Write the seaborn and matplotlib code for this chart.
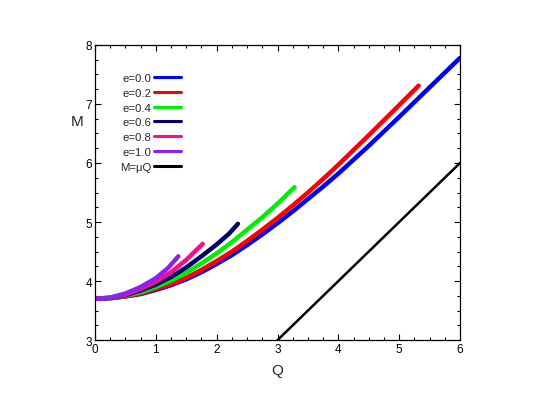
import matplotlib
matplotlib.use("Agg")
import matplotlib.pyplot as plt
from matplotlib.ticker import MultipleLocator
import seaborn as sns
import pandas as pd

# curves, M against Q
q_e00 = [0, 0.25, 0.5, 0.75, 1.0, 1.25, 1.5, 1.75, 2.0, 2.25, 2.5, 2.75, 3.0,
         3.25, 3.5, 3.75, 4.0, 4.5, 5.0, 5.5, 6.0]
m_e00 = [3.70, 3.71, 3.74, 3.78, 3.85, 3.93, 4.03, 4.15, 4.29, 4.44, 4.61, 4.79, 4.98,
         5.18, 5.39, 5.60, 5.82, 6.29, 6.78, 7.28, 7.78]

q_e02 = [0, 0.25, 0.5, 0.75, 1.0, 1.25, 1.5, 1.75, 2.0, 2.25, 2.5, 2.75, 3.0,
         3.25, 3.5, 3.75, 4.0, 4.5, 5.0, 5.32]
m_e02 = [3.70, 3.71, 3.74, 3.79, 3.87, 3.95, 4.06, 4.19, 4.34, 4.50, 4.68, 4.87, 5.07,
         5.28, 5.50, 5.73, 5.97, 6.47, 6.98, 7.31]

q_e04 = [0, 0.25, 0.5, 0.75, 1.0, 1.25, 1.5, 1.75, 2.0, 2.25, 2.5, 2.75, 3.0, 3.28]
m_e04 = [3.70, 3.71, 3.75, 3.81, 3.90, 4.01, 4.14, 4.30, 4.47, 4.66, 4.87, 5.08, 5.31, 5.59]

q_e06 = [0, 0.25, 0.5, 0.75, 1.0, 1.25, 1.5, 1.75, 2.0, 2.2, 2.35]
m_e06 = [3.70, 3.715, 3.76, 3.84, 3.94, 4.07, 4.23, 4.42, 4.62, 4.80, 4.97]

q_e08 = [0, 0.25, 0.5, 0.75, 1.0, 1.25, 1.5, 1.77]
m_e08 = [3.70, 3.72, 3.77, 3.87, 3.99, 4.15, 4.36, 4.63]

q_e10 = [0, 0.25, 0.5, 0.75, 1.0, 1.2, 1.37]
m_e10 = [3.70, 3.72, 3.79, 3.90, 4.05, 4.22, 4.42]

q_mu = [3.0, 6.0]
m_mu = [3.0, 6.0]

labels = ["e=0.0", "e=0.2", "e=0.4", "e=0.6", "e=0.8", "e=1.0", "M=\u03bcQ"]
colors = ["#0000ff", "#ff0000", "#00ee00", "#000066", "#ff0a8c", "#8f20f0", "#000000"]
series = [(q_e00, m_e00), (q_e02, m_e02), (q_e04, m_e04), (q_e06, m_e06),
          (q_e08, m_e08), (q_e10, m_e10), (q_mu, m_mu)]

sns.set_theme(style="ticks")
plt.rcParams["font.family"] = ["Liberation Sans", "DejaVu Sans"]

fig = plt.figure(figsize=(5.35, 4.10), dpi=100)
ax = fig.add_axes([0.1776, 0.168, 0.6822, 0.720])

for (q, m), lab, col in zip(series, labels, colors):
    df = pd.DataFrame({"Q": q, "M": m})
    lw = 1.8 if lab.startswith("M") else 3.2
    sns.lineplot(data=df, x="Q", y="M", ax=ax, color=col, linewidth=lw,
                 label=lab, sort=False, estimator=None, solid_capstyle="round")

ax.set_xlim(0, 6)
ax.set_ylim(3, 8)
ax.xaxis.set_major_locator(MultipleLocator(1))
ax.xaxis.set_minor_locator(MultipleLocator(0.25))
ax.yaxis.set_major_locator(MultipleLocator(1))
ax.yaxis.set_minor_locator(MultipleLocator(0.25))
ax.tick_params(which="both", direction="in", top=True, right=True,
               colors="black", labelsize=8.5, width=0.8, pad=2)
ax.tick_params(which="major", length=4)
ax.tick_params(which="minor", length=2)
for sp in ax.spines.values():
    sp.set_linewidth(0.9)
    sp.set_color("black")

ax.set_xlabel("Q", fontsize=11, labelpad=6)
ax.set_ylabel("M", fontsize=11, rotation=0)
ax.yaxis.set_label_coords(-0.05, 0.72)

leg = ax.legend(loc="upper left", bbox_to_anchor=(0.07, 0.905), frameon=False,
                markerfirst=False, fontsize=8.2, handlelength=2.4,
                handletextpad=0.2, labelspacing=0.42, borderpad=0,
                borderaxespad=0)
for h in leg.get_lines():
    h.set_linewidth(2.2)

fig.savefig("out.png", dpi=100)
